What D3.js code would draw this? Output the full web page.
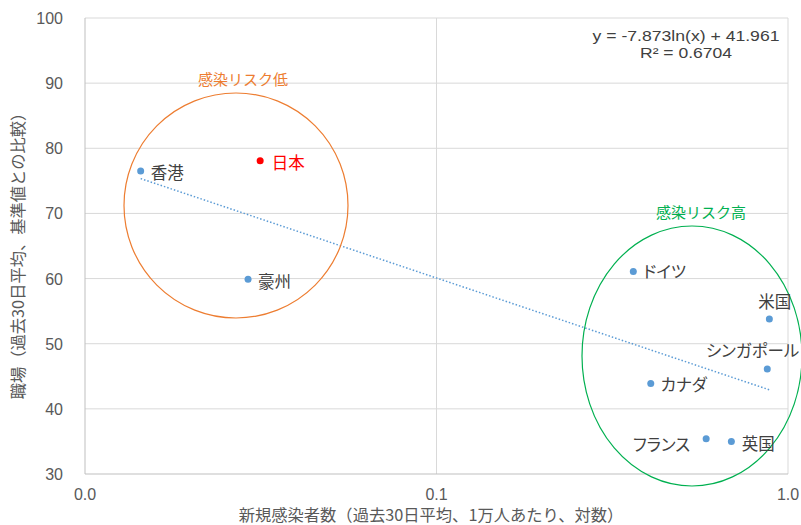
<!DOCTYPE html>
<html><head><meta charset="utf-8">
<script src="https://cdn.jsdelivr.net/npm/d3@7"></script>
<style>
html,body{margin:0;padding:0;background:#fff;}
svg{display:block;}
.pt-label{font-feature-settings:"palt" 1;}
</style></head>
<body>
<svg id="chart" width="801" height="525"></svg>
<script>
// Regions (labels) and their values
const regions = ["香港", "日本", "豪州", "ドイツ", "米国", "シンガポール", "カナダ", "フランス", "英国"];
const newCases = [0.0144, 0.0315, 0.0291, 0.363, 0.885, 0.873, 0.407, 0.585, 0.690];
const workplace = [76.5, 78.1, 59.9, 61.1, 53.8, 46.1, 43.9, 35.4, 35.0];
const xTicks = [0.01, 0.1, 1.0];
const xTickLabels = ["0.0", "0.1", "1.0"];
const yTicks = [30, 40, 50, 60, 70, 80, 90, 100];
const trendSlope = -7.873, trendIntercept = 41.961, rSquared = 0.6704;

const svg = d3.select("#chart");
const m = {left: 85, right: 13, top: 18, bottom: 51};
const W = 801, H = 525;
const x = d3.scaleLog().domain([0.01, 1]).range([m.left, W - m.right]);
const y = d3.scaleLinear().domain([30, 100]).range([H - m.bottom, m.top]);

const numFont = "'Liberation Sans', Arial, sans-serif";
const jpFont = "'Noto Sans CJK JP', sans-serif";

// gridlines
svg.append("g").selectAll("line").data(yTicks.filter(d => d > 30)).join("line")
  .attr("x1", m.left).attr("x2", W - m.right)
  .attr("y1", d => y(d)).attr("y2", d => y(d))
  .attr("stroke", "#d9d9d9").attr("stroke-width", 1);
svg.append("g").selectAll("line").data(xTicks.slice(1)).join("line")
  .attr("x1", d => x(d)).attr("x2", d => x(d))
  .attr("y1", m.top).attr("y2", H - m.bottom)
  .attr("stroke", "#d9d9d9").attr("stroke-width", 1);

// axes lines
svg.append("line").attr("x1", m.left).attr("x2", m.left).attr("y1", m.top).attr("y2", H - m.bottom)
  .attr("stroke", "#bfbfbf");
svg.append("line").attr("x1", m.left).attr("x2", W - m.right).attr("y1", H - m.bottom).attr("y2", H - m.bottom)
  .attr("stroke", "#bfbfbf");

// y tick labels
svg.append("g").selectAll("text").data(yTicks).join("text")
  .attr("x", 63).attr("y", d => y(d) + 6)
  .attr("text-anchor", "end").attr("font-family", numFont).attr("font-size", 16)
  .attr("fill", "#595959").text(d => d);

// x tick labels
svg.append("g").selectAll("text").data(xTicks).join("text")
  .attr("x", d => x(d)).attr("y", 500)
  .attr("text-anchor", "middle").attr("font-family", numFont).attr("font-size", 16)
  .attr("fill", "#595959").text((d, i) => xTickLabels[i]);

// axis titles
svg.append("text").attr("x", 431).attr("y", 521)
  .attr("text-anchor", "middle").attr("font-family", jpFont).attr("font-size", 16.3)
  .attr("fill", "#595959").text("新規感染者数（過去30日平均、1万人あたり、対数）");
svg.append("text").attr("transform", "translate(24,252) rotate(-90)")
  .attr("text-anchor", "middle").attr("font-family", jpFont).attr("font-size", 16.3)
  .attr("fill", "#595959").text("職場（過去30日平均、基準値との比較）");

// logarithmic trendline
const xMin = d3.min(newCases), xMax = d3.max(newCases);
const trendPts = d3.range(0, 101).map(i => {
  const xv = Math.exp(Math.log(xMin) + (Math.log(xMax) - Math.log(xMin)) * i / 100);
  return [xv, trendSlope * Math.log(xv) + trendIntercept];
});
svg.append("path").datum(trendPts)
  .attr("d", d3.line().x(d => x(d[0])).y(d => y(d[1])))
  .attr("fill", "none").attr("stroke", "#5b9bd5").attr("stroke-width", 1.5)
  .attr("stroke-dasharray", "1.5,2");

// equation
const eq = svg.append("text").attr("font-family", numFont).attr("font-size", 15)
  .attr("fill", "#404040").attr("text-anchor", "middle");
eq.append("tspan").attr("x", 686).attr("y", 41)
  .attr("textLength", 187).attr("lengthAdjust", "spacingAndGlyphs")
  .text(`y = ${trendSlope}ln(x) + ${trendIntercept}`);
eq.append("tspan").attr("x", 686).attr("y", 58)
  .attr("textLength", 92).attr("lengthAdjust", "spacingAndGlyphs")
  .text(`R² = ${rSquared}`);

// group ellipses
svg.append("ellipse").attr("cx", 236).attr("cy", 205.5).attr("rx", 112).attr("ry", 112.5)
  .attr("fill", "none").attr("stroke", "#ed7d31").attr("stroke-width", 1.2);
svg.append("ellipse").attr("cx", 692).attr("cy", 356).attr("rx", 110).attr("ry", 130)
  .attr("fill", "none").attr("stroke", "#00b050").attr("stroke-width", 1.2);
svg.append("text").attr("x", 243).attr("y", 85).attr("text-anchor", "middle")
  .attr("font-family", jpFont).attr("font-size", 15).attr("fill", "#ed7d31").text("感染リスク低");
svg.append("text").attr("x", 701).attr("y", 218).attr("text-anchor", "middle")
  .attr("font-family", jpFont).attr("font-size", 15).attr("fill", "#00b050").text("感染リスク高");

// points
const data = regions.map((r, i) => ({r, xv: newCases[i], yv: workplace[i]}));
svg.append("g").selectAll("circle").data(data).join("circle")
  .attr("cx", d => x(d.xv)).attr("cy", d => y(d.yv)).attr("r", 3.5)
  .attr("fill", d => d.r === "日本" ? "#ff0000" : "#5b9bd5");

// point labels: offset and anchor per region
const labelPos = {
  "香港": [10, 8, "start"], "日本": [11.5, 8, "start"], "豪州": [10, 9, "start"],
  "ドイツ": [10, 7, "start"], "米国": [-11, -11, "start"], "シンガポール": [32, -12.5, "end"],
  "カナダ": [10, 7.5, "start"], "フランス": [-16, 12, "end"], "英国": [10.5, 8.5, "start"]
};
svg.append("g").selectAll("text").data(data).join("text")
  .attr("class", "pt-label")
  .attr("x", d => x(d.xv) + labelPos[d.r][0]).attr("y", d => y(d.yv) + labelPos[d.r][1])
  .attr("text-anchor", d => labelPos[d.r][2])
  .attr("font-family", jpFont).attr("font-size", 16.5)
  .attr("fill", d => d.r === "日本" ? "#ff0000" : "#404040").text(d => d.r);
</script>
</body></html>
